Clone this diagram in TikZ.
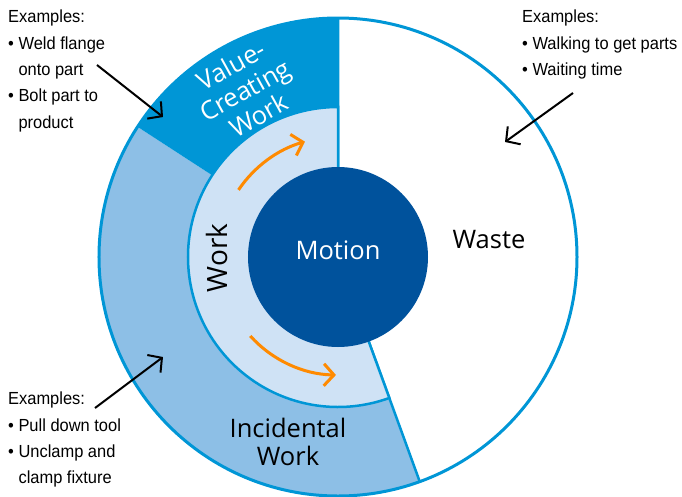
\documentclass[tikz,border=0pt]{standalone}
\usepackage{fontspec}
\setmainfont[FakeStretch=0.94]{Liberation Sans}
\newfontfamily\labelfont{Open Sans}
\usetikzlibrary{arrows.meta}
\definecolor{vcBlue}{RGB}{0,150,214}
\definecolor{incBlue}{RGB}{141,191,230}
\definecolor{workBlue}{RGB}{207,226,245}
\definecolor{motionBlue}{RGB}{0,82,156}
\definecolor{flowOrange}{RGB}{255,138,0}

\begin{document}
\begin{tikzpicture}[x=1pt, y=1pt, ring/.style={draw=vcBlue, line width=2.5pt},big/.style={font=\labelfont\fontsize{25.5}{28.5}\selectfont, align=center, inner sep=0pt},ex/.style={font=\fontsize{17.5}{26.3}\selectfont, align=left, anchor=north west, inner sep=0pt},flow/.style={-{Straight Barb[length=10pt,width=22pt]}, draw=flowOrange, line width=3pt},point/.style={-{Straight Barb[length=10pt,width=22pt]}, line width=2pt}]
  \useasboundingbox (-338,-239) rectangle (344,257);

  \fill[white] (0,0) -- (-70:239) arc (-70:90:239) -- cycle;
  \fill[incBlue] (0,0) -- (147:239) arc (147:290:239) -- cycle;
  \fill[vcBlue] (0,0) -- (90:239) arc (90:147:239) -- cycle;
  \draw[ring, line width=3pt] (0,0) circle (239);
  \draw[ring] (90:239) -- (0,0) -- (-70:239);
  \filldraw[ring, fill=workBlue] (0,0) -- (90:150) arc (90:290:150) -- cycle;
  \fill[motionBlue] (0,0) circle (90);

  \draw[flow] (146:120) arc (146:106:120);
  \draw[flow] (222:118) arc (222:269:118);

  \node[big, text=white] (motion) at (0,7) {Motion};
  \node[big] (waste) at (151,17) {Waste};
  \node[big, rotate=90, font=\labelfont\fontsize{28}{30}\selectfont] (work) at (-121,-1) {Work};
  \node[big, text=white, rotate=29] (valuework) at (-93,167) {Value-\\Creating\\Work};
  \node[big] (incwork) at (-50,-185) {Incidental\\Work};

  \node[ex] (vcex) at (-330,247) {Examples:\\\textbullet\ Weld flange\\\hphantom{\textbullet\ }onto part\\\textbullet\ Bolt part to\\\hphantom{\textbullet\ }product};
  \node[ex] (wasteex) at (184,247) {Examples:\\\textbullet\ Walking to get parts\\\textbullet\ Waiting time};
  \node[ex] (incex) at (-330,-135) {Examples:\\\textbullet\ Pull down tool\\\textbullet\ Unclamp and\\\hphantom{\textbullet\ }clamp fixture};

  \coordinate (vcfrom) at (-241,192);
  \coordinate (vcto) at (-175,140);
  \coordinate (wastefrom) at (235,164);
  \coordinate (wasteto) at (167,115);
  \coordinate (incfrom) at (-243,-151);
  \coordinate (incto) at (-175,-100);
  \draw[point] (vcfrom) -- (vcto);
  \draw[point] (wastefrom) -- (wasteto);
  \draw[point] (incfrom) -- (incto);
\end{tikzpicture}
\end{document}
